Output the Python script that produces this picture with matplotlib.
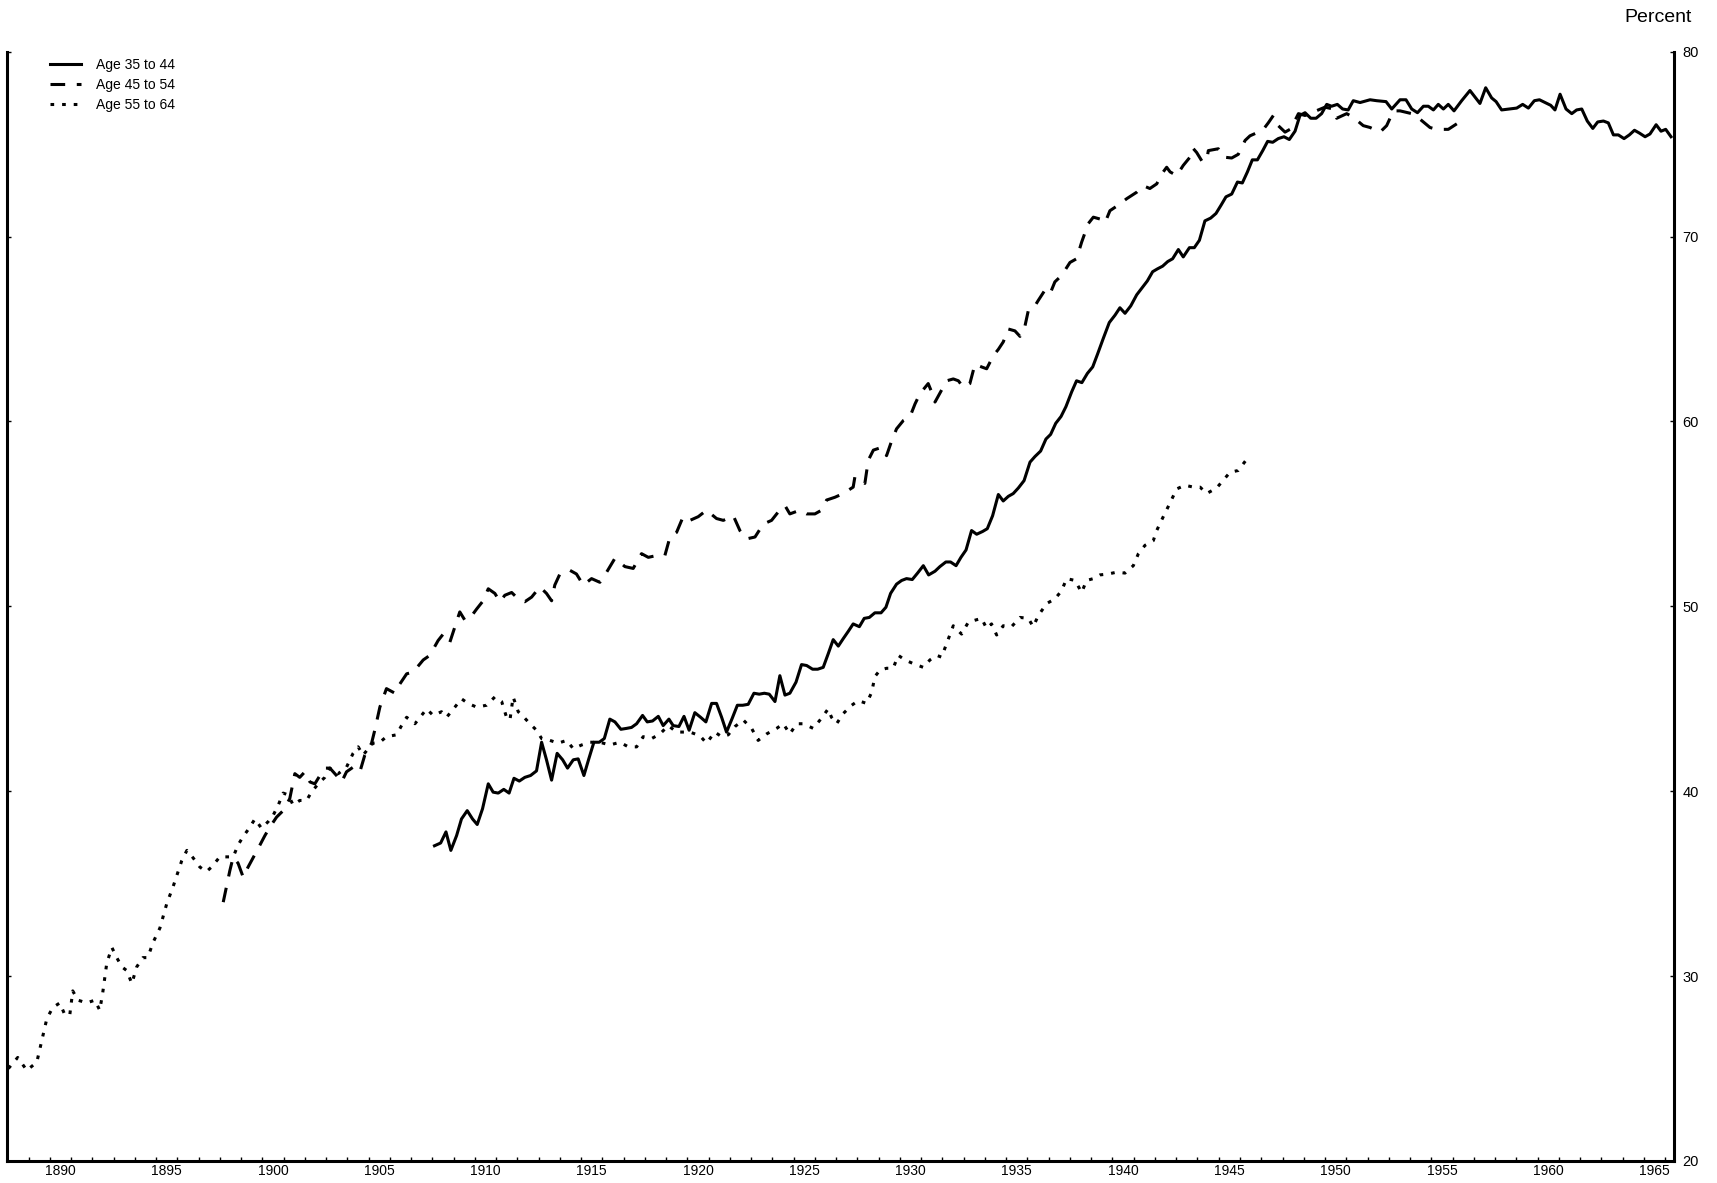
import matplotlib
matplotlib.use("Agg")
import matplotlib.pyplot as plt

plt.rcParams['font.family'] = ['Liberation Sans', 'DejaVu Sans']

# Age 35 to 44
years_35_44 = [
    1908.10, 1908.39, 1908.64, 1908.87, 1909.14, 1909.37, 1909.64, 1909.89, 1910.11, 1910.36,
    1910.63, 1910.86, 1911.10, 1911.36, 1911.61, 1911.84, 1912.09, 1912.35, 1912.62, 1912.90,
    1913.14, 1913.37, 1913.61, 1913.87, 1914.13, 1914.36, 1914.63, 1914.86, 1915.13, 1915.36,
    1915.60, 1915.85, 1916.09, 1916.35, 1916.59, 1916.87, 1917.14, 1917.37, 1917.61, 1917.89,
    1918.11, 1918.36, 1918.63, 1918.86, 1919.13, 1919.33, 1919.60, 1919.84, 1920.08, 1920.35,
    1920.62, 1920.87, 1921.14, 1921.37, 1921.61, 1921.84, 1922.11, 1922.35, 1922.60, 1922.86,
    1923.13, 1923.38, 1923.62, 1923.85, 1924.12, 1924.35, 1924.59, 1924.82, 1925.11, 1925.37,
    1925.61, 1925.89, 1926.13, 1926.39, 1926.63, 1926.86, 1927.10, 1927.33, 1927.57, 1927.80,
    1928.09, 1928.32, 1928.56, 1928.82, 1929.11, 1929.34, 1929.56, 1929.84, 1930.08, 1930.31,
    1930.58, 1930.83, 1931.10, 1931.35, 1931.65, 1931.88, 1932.16, 1932.38, 1932.64, 1932.87,
    1933.11, 1933.37, 1933.61, 1933.89, 1934.11, 1934.36, 1934.63, 1934.86, 1935.10, 1935.33,
    1935.57, 1935.84, 1936.12, 1936.35, 1936.62, 1936.87, 1937.09, 1937.33, 1937.58, 1937.81,
    1938.08, 1938.31, 1938.56, 1938.82, 1939.07, 1939.30, 1939.57, 1939.85, 1940.12, 1940.35,
    1940.59, 1940.86, 1941.14, 1941.41, 1941.64, 1941.89, 1942.11, 1942.36, 1942.60, 1942.83,
    1943.10, 1943.33, 1943.62, 1943.85, 1944.09, 1944.35, 1944.62, 1944.87, 1945.11, 1945.34,
    1945.61, 1945.88, 1946.11, 1946.35, 1946.58, 1946.82, 1947.07, 1947.30, 1947.54, 1947.80,
    1948.07, 1948.32, 1948.59, 1948.82, 1949.06, 1949.33, 1949.58, 1949.84, 1950.08, 1950.31,
    1950.58, 1950.83, 1951.09, 1951.33, 1951.65, 1952.12, 1952.43, 1952.87, 1953.14, 1953.53,
    1953.81, 1954.08, 1954.35, 1954.63, 1954.86, 1955.10, 1955.33, 1955.57, 1955.80, 1956.07,
    1956.43, 1956.82, 1957.29, 1957.56, 1957.84, 1958.05, 1958.31, 1959.02, 1959.30, 1959.57,
    1959.85, 1960.09, 1960.35, 1960.62, 1960.82, 1961.06, 1961.34, 1961.61, 1961.84, 1962.08,
    1962.34, 1962.60, 1962.83, 1963.10, 1963.33, 1963.57, 1963.80, 1964.07, 1964.32, 1964.56,
    1964.79, 1965.06, 1965.29, 1965.58, 1965.81, 1966.03, 1966.28,
]
pct_35_44 = [
    37.05, 37.2, 37.8, 36.8, 37.6, 38.5, 38.95, 38.5, 38.2, 39.05,
    40.4, 39.95, 39.9, 40.1, 39.9, 40.7, 40.55, 40.75, 40.85, 41.1,
    42.65, 41.7, 40.6, 42.05, 41.7, 41.25, 41.7, 41.75, 40.85, 41.75,
    42.65, 42.65, 42.85, 43.9, 43.75, 43.35, 43.4, 43.45, 43.65, 44.1,
    43.75, 43.8, 44.05, 43.55, 43.9, 43.55, 43.5, 44.05, 43.3, 44.25,
    44.0, 43.75, 44.75, 44.75, 44.0, 43.2, 43.95, 44.65, 44.65, 44.7,
    45.3, 45.25, 45.3, 45.25, 44.85, 46.25, 45.2, 45.3, 45.9, 46.85,
    46.8, 46.6, 46.6, 46.7, 47.45, 48.2, 47.85, 48.25, 48.65, 49.05,
    48.9, 49.35, 49.4, 49.65, 49.65, 49.95, 50.7, 51.2, 51.4, 51.5,
    51.45, 51.8, 52.2, 51.7, 51.9, 52.15, 52.4, 52.4, 52.2, 52.65,
    53.05, 54.1, 53.9, 54.05, 54.2, 54.9, 56.05, 55.7, 55.95, 56.1,
    56.4, 56.8, 57.8, 58.1, 58.4, 59.05, 59.3, 59.9, 60.27, 60.8,
    61.6, 62.2, 62.1, 62.6, 62.95, 63.65, 64.5, 65.35, 65.75, 66.15,
    65.85, 66.25, 66.85, 67.25, 67.6, 68.1, 68.25, 68.4, 68.65, 68.8,
    69.3, 68.9, 69.4, 69.4, 69.8, 70.85, 71.0, 71.25, 71.7, 72.15,
    72.3, 72.95, 72.9, 73.5, 74.15, 74.15, 74.65, 75.15, 75.1, 75.3,
    75.4, 75.25, 75.7, 76.55, 76.7, 76.4, 76.4, 76.65, 77.15, 77.05,
    77.15, 76.9, 76.85, 77.35, 77.25, 77.4, 77.35, 77.3, 76.9, 77.4,
    77.4, 76.9, 76.7, 77.05, 77.05, 76.85, 77.15, 76.9, 77.15, 76.8,
    77.35, 77.9, 77.2, 78.05, 77.5, 77.3, 76.85, 76.95, 77.15, 76.95,
    77.35, 77.4, 77.25, 77.1, 76.85, 77.7, 76.9, 76.65, 76.85, 76.9,
    76.25, 75.85, 76.2, 76.25, 76.15, 75.5, 75.5, 75.3, 75.5, 75.75,
    75.6, 75.4, 75.55, 76.05, 75.7, 75.8, 75.4,
]

# Age 45 to 54
years_45_54 = [
    1898.16, 1898.47, 1898.63, 1898.86, 1899.10, 1899.33, 1899.80, 1900.12, 1900.35, 1900.67,
    1900.98, 1901.29, 1901.53, 1901.76, 1902.00, 1902.24, 1902.47, 1902.71, 1902.94, 1903.18,
    1903.49, 1903.73, 1903.96, 1904.27, 1904.59, 1904.82, 1905.14, 1905.29, 1905.53, 1905.84,
    1906.24, 1906.47, 1906.79, 1907.10, 1907.57, 1907.88, 1908.27, 1908.51, 1908.82, 1909.06,
    1909.29, 1909.53, 1909.76, 1910.08, 1910.39, 1910.63, 1910.94, 1911.18, 1911.41, 1911.73,
    1912.04, 1912.35, 1912.67, 1913.06, 1913.37, 1913.61, 1913.76, 1914.00, 1914.47, 1914.78,
    1915.10, 1915.49, 1915.88, 1916.20, 1916.59, 1917.06, 1917.45, 1917.84, 1918.16, 1918.55,
    1918.94, 1919.18, 1919.49, 1919.80, 1920.12, 1920.51, 1920.90, 1921.37, 1921.69, 1922.16,
    1922.47, 1922.79, 1923.18, 1923.57, 1923.96, 1924.27, 1924.59, 1924.82, 1925.29, 1925.61,
    1926.00, 1926.31, 1926.55, 1926.94, 1927.33, 1927.80, 1927.88, 1928.35, 1928.51, 1928.75,
    1929.14, 1929.37, 1929.61, 1929.84, 1930.16, 1930.47, 1930.71, 1930.94, 1931.33, 1931.49,
    1931.65, 1931.96, 1932.20, 1932.51, 1932.75, 1932.98, 1933.29, 1933.53, 1933.84, 1934.08,
    1934.39, 1934.63, 1934.86, 1935.10, 1935.41, 1935.65, 1935.88, 1936.04, 1936.27, 1936.51,
    1936.82, 1937.06, 1937.29, 1937.61, 1938.00, 1938.31, 1938.55, 1938.86, 1939.10, 1939.41,
    1939.65, 1939.88, 1940.27, 1940.67, 1941.14, 1941.45, 1941.76, 1942.08, 1942.39, 1942.55,
    1942.71, 1943.02, 1943.33, 1943.65, 1943.77, 1943.96, 1944.20, 1944.43, 1944.51, 1944.98,
    1945.22, 1945.61, 1945.92, 1946.24, 1946.47, 1946.86, 1947.10, 1947.33, 1947.57, 1947.80,
    1948.12, 1948.35, 1948.51, 1948.75, 1949.06, 1949.68, 1950.00, 1950.39, 1950.55, 1951.02,
    1951.33, 1951.80, 1952.12, 1952.59, 1952.90, 1953.22, 1953.53, 1954.08, 1954.47, 1954.94,
    1955.25, 1955.80, 1956.20,
]
pct_45_54 = [
    34.0, 35.7, 36.45, 36.1, 35.35, 35.9, 36.9, 37.6, 38.05, 38.6,
    38.95, 39.6, 40.95, 40.75, 41.05, 40.5, 40.4, 40.85, 41.25, 41.25,
    40.85, 40.5, 41.05, 41.3, 41.05, 41.95, 42.6, 43.3, 44.55, 45.55,
    45.3, 45.8, 46.35, 46.45, 47.1, 47.35, 48.15, 48.5, 48.05, 48.9,
    49.7, 49.25, 49.35, 49.85, 50.3, 50.95, 50.7, 50.25, 50.6, 50.75,
    50.4, 50.25, 50.5, 51.05, 50.7, 50.3, 51.15, 51.75, 51.95, 51.75,
    51.15, 51.5, 51.3, 51.85, 52.6, 52.15, 52.05, 52.85, 52.65, 52.75,
    52.75, 53.75, 54.0, 54.85, 54.65, 54.85, 55.2, 54.75, 54.65, 54.9,
    54.1, 53.65, 53.75, 54.45, 54.65, 55.1, 55.45, 55.0, 55.2, 55.0,
    55.0, 55.2, 55.75, 55.9, 56.1, 56.45, 57.0, 56.65, 57.9, 58.45,
    58.6, 58.15, 58.95, 59.6, 60.05, 60.25, 60.95, 61.5, 62.05, 61.6,
    61.05, 61.7, 62.2, 62.3, 62.2, 61.85, 62.05, 63.1, 62.95, 62.85,
    63.55, 63.9, 64.3, 65.0, 64.9, 64.6, 65.15, 66.0, 66.1, 66.55,
    67.1, 66.9, 67.55, 67.9, 68.6, 68.8, 69.7, 70.7, 71.05, 70.95,
    70.75, 71.4, 71.7, 72.05, 72.4, 72.75, 72.6, 72.85, 73.5, 73.75,
    73.5, 73.3, 73.85, 74.3, 74.8, 74.55, 74.1, 74.1, 74.65, 74.75,
    74.3, 74.25, 74.45, 75.2, 75.45, 75.65, 75.8, 76.15, 76.55, 76.0,
    75.65, 75.8, 76.1, 76.65, 76.55, 76.85, 77.0, 76.9, 76.4, 76.65,
    76.45, 76.0, 75.9, 75.65, 76.0, 76.8, 76.8, 76.65, 76.35, 75.9,
    75.8, 75.8, 76.1,
]

# Age 55 to 64
years_55_64 = [
    1888.05, 1888.49, 1888.92, 1889.39, 1889.62, 1889.86, 1890.14, 1890.47, 1890.71, 1890.94,
    1891.08, 1891.32, 1891.74, 1892.12, 1892.35, 1892.49, 1892.68, 1892.92, 1893.15, 1893.39,
    1893.62, 1893.86, 1894.09, 1894.38, 1894.61, 1894.85, 1895.18, 1895.51, 1895.79, 1896.21,
    1896.45, 1896.74, 1897.06, 1897.37, 1897.61, 1898.00, 1898.39, 1898.63, 1898.86, 1899.10,
    1899.41, 1899.65, 1899.96, 1900.27, 1900.51, 1900.75, 1900.98, 1901.22, 1901.45, 1901.76,
    1902.08, 1902.31, 1902.63, 1902.94, 1903.18, 1903.57, 1903.96, 1904.27, 1904.51, 1904.74,
    1904.98, 1905.21, 1905.53, 1905.84, 1906.31, 1906.55, 1906.79, 1907.18, 1907.73, 1908.04,
    1908.43, 1908.67, 1909.06, 1909.37, 1909.68, 1910.08, 1910.55, 1910.94, 1911.26, 1911.49,
    1911.65, 1911.80, 1912.04, 1912.35, 1912.59, 1912.90, 1913.14, 1913.53, 1913.92, 1914.32,
    1914.63, 1915.02, 1915.41, 1915.88, 1916.35, 1916.82, 1917.22, 1917.61, 1917.92, 1918.32,
    1918.71, 1919.10, 1919.49, 1919.80, 1920.12, 1920.59, 1920.90, 1921.29, 1921.61, 1921.92,
    1922.24, 1922.63, 1923.02, 1923.33, 1923.73, 1924.20, 1924.51, 1924.82, 1925.14, 1925.45,
    1925.92, 1926.31, 1926.62, 1926.78, 1927.02, 1927.33, 1927.73, 1928.04, 1928.43, 1928.67,
    1928.82, 1929.06, 1929.37, 1929.68, 1929.92, 1930.24, 1930.63, 1931.10, 1931.41, 1931.73,
    1931.96, 1932.20, 1932.51, 1932.90, 1933.22, 1933.53, 1933.84, 1934.08, 1934.31, 1934.55,
    1934.86, 1935.25, 1935.65, 1936.04, 1936.27, 1936.51, 1936.90, 1937.29, 1937.61, 1937.84,
    1938.24, 1938.55, 1938.78, 1939.10, 1939.41, 1939.80, 1940.20, 1940.59, 1940.98, 1941.22,
    1941.53, 1941.92, 1942.08, 1942.39, 1942.71, 1943.02, 1943.41, 1943.80, 1944.12, 1944.43,
    1944.90, 1945.53, 1945.92, 1946.28,
]
pct_55_64 = [
    25.0, 25.6, 24.9, 25.35, 26.5, 27.7, 28.3, 28.55, 27.9, 27.9,
    29.2, 28.7, 28.55, 28.7, 28.15, 29.1, 30.7, 31.55, 31.0, 30.5,
    30.3, 29.6, 30.5, 31.0, 31.0, 31.8, 32.6, 33.95, 34.8, 36.25,
    36.8, 36.4, 35.9, 35.65, 35.9, 36.45, 36.45, 36.45, 37.1, 37.55,
    38.05, 38.5, 38.0, 38.35, 38.7, 39.25, 39.9, 39.8, 39.25, 39.5,
    39.5, 39.95, 40.4, 40.75, 41.25, 40.95, 41.3, 42.05, 42.4, 41.95,
    42.3, 42.6, 42.65, 42.95, 43.05, 43.55, 44.0, 43.65, 44.45, 44.1,
    44.3, 44.0, 44.55, 45.0, 44.75, 44.55, 44.65, 45.1, 44.85, 44.0,
    43.85, 45.1, 44.3, 43.95, 43.65, 43.3, 42.85, 42.75, 42.6, 42.75,
    42.3, 42.5, 42.65, 42.65, 42.5, 42.65, 42.4, 42.4, 42.95, 42.85,
    43.1, 43.55, 43.2, 43.2, 43.2, 43.0, 42.6, 43.2, 42.95, 43.05,
    43.5, 43.85, 43.4, 42.75, 43.1, 43.4, 43.65, 43.1, 43.65, 43.65,
    43.4, 43.95, 44.45, 44.0, 43.65, 44.2, 44.65, 44.9, 44.75, 45.35,
    46.2, 46.55, 46.65, 46.65, 47.35, 47.1, 46.9, 46.7, 47.1, 47.35,
    47.25, 48.0, 48.95, 48.5, 49.15, 49.25, 49.35, 48.8, 49.05, 48.45,
    48.95, 48.9, 49.4, 49.35, 48.9, 49.5, 50.15, 50.4, 50.85, 51.5,
    51.4, 50.75, 51.4, 51.5, 51.7, 51.75, 51.85, 51.8, 52.2, 52.85,
    53.3, 53.55, 54.1, 54.85, 55.6, 56.35, 56.55, 56.45, 56.45, 56.1,
    56.4, 57.25, 57.35, 57.9,
]

series_labels = ['Age 35 to 44', 'Age 45 to 54', 'Age 55 to 64']
year_ticks = list(range(1888, 1967))
year_labels = [str(y) for y in range(1890, 1966, 5)]
pct_ticks = [20, 30, 40, 50, 60, 70, 80]

fig = plt.figure(figsize=(17.17, 11.83), dpi=100)
ax = fig.add_axes([0.00425, 0.0186, 0.9707, 0.9377])

lw = 2.2
ax.plot(years_35_44, pct_35_44, color='black', lw=lw, linestyle='-',
        label=series_labels[0])
ax.plot(years_45_54, pct_45_54, color='black', lw=lw, linestyle=(0, (4.8, 3.8)),
        label=series_labels[1])
ax.plot(years_55_64, pct_55_64, color='black', lw=lw, linestyle=(0, (1.2, 2.6)),
        label=series_labels[2])

ax.set_xlim(1888.0, 1966.42)
ax.set_ylim(20, 80)

# one tick per year, labels sit in the middle of their year
ax.set_xticks(year_ticks)
ax.set_xticklabels([])
ax.set_xticks([int(s) + 0.5 for s in year_labels], minor=True)
ax.set_xticklabels(year_labels, minor=True)
ax.tick_params(axis='x', which='major', direction='in', length=3, width=1)
ax.tick_params(axis='x', which='minor', length=0, pad=2.5, labelsize=10)

ax.set_yticks(pct_ticks)
ax.tick_params(axis='y', direction='in', length=3, width=1, left=True, right=True,
               labelleft=False, labelright=True, pad=6, labelsize=10.5)

ax.spines['top'].set_visible(False)
for side in ('left', 'right', 'bottom'):
    ax.spines[side].set_linewidth(2.2)

fig.text(1658 / 1717, 1 - 17 / 1183, 'Percent', ha='center', va='center', fontsize=14)

ax.legend(loc='upper left', bbox_to_anchor=(50 / 1717, 1 - 58 / 1183),
          bbox_transform=fig.transFigure, frameon=False, fontsize=10,
          handlelength=2.2, handletextpad=1.1, labelspacing=0.42,
          borderpad=0, borderaxespad=0)

fig.savefig('out.png', dpi=100)
